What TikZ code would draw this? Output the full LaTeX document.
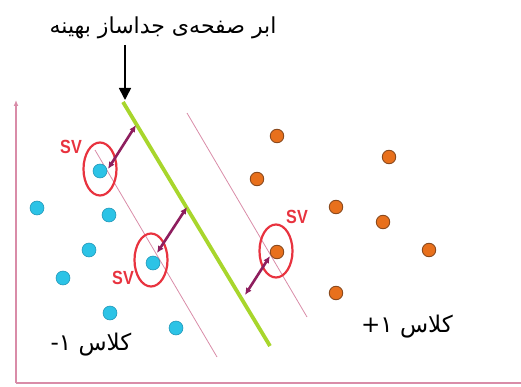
\documentclass[tikz,border=0pt]{standalone}
\usepackage{fontspec}
\setmainfont{Liberation Sans}
\newfontfamily\arabicfont[Script=Arabic]{DejaVu Sans}
\newfontfamily\svfont[FakeStretch=0.85]{Liberation Sans}
\TeXXeTstate=1
\usepackage{tikz}
\usetikzlibrary{arrows.meta, shapes.geometric}
\definecolor{svmred}{HTML}{E8333F}
\definecolor{svmblue}{HTML}{2CC3E6}
\definecolor{svmbluedark}{HTML}{1C8FB0}
\definecolor{svmorange}{HTML}{E8701C}
\definecolor{svmorangedark}{HTML}{8A4A1E}
\definecolor{svmgreen}{HTML}{A8D62C}
\definecolor{svmpink}{HTML}{D98CA8}
\definecolor{svmplum}{HTML}{8E1E5E}

\begin{document}
\begin{tikzpicture}[x=1pt, y=-1pt,
    negdot/.style={circle, draw=svmbluedark, fill=svmblue, line width=0.5pt,
                   inner sep=0pt, minimum size=14pt},
    posdot/.style={circle, draw=svmorangedark, fill=svmorange, line width=0.9pt,
                   inner sep=0pt, minimum size=13.5pt},
    svring/.style={ellipse, draw=svmred, line width=2.2pt, inner sep=0pt,
                   minimum width=33pt, minimum height=53pt},
    svtag/.style={font=\svfont\bfseries\fontsize{19}{19}\selectfont, text=svmred, inner sep=0pt},
    marginline/.style={draw=svmpink, line width=0.8pt},
    gap/.style={{Latex[length=7pt,width=6.5pt]}-{Latex[length=7pt,width=6.5pt]},
                line width=2.6pt, draw=svmplum},
    classlbl/.style={font=\arabicfont\fontsize{23}{26}\selectfont, inner sep=0pt},
]
\useasboundingbox (0,0) rectangle (521,387);

% Axes
\coordinate (origin) at (16,383);
\coordinate (ytop) at (16,100);
\coordinate (xend) at (521,383);
\draw[svmpink, line width=1.8pt, -{Latex[length=6pt,width=5pt]}] (origin) -- (ytop);
\draw[svmpink, line width=1.8pt] (origin) -- (xend);

% Margins and separating hyperplane
\coordinate (mltop) at (95,150);
\coordinate (mlbot) at (217,357);
\coordinate (mrtop) at (187,113);
\coordinate (mrbot) at (307,317);
\coordinate (gtop) at (123,102);
\coordinate (gbot) at (270,346);
\draw[marginline] (mltop) -- (mlbot);
\draw[marginline] (mrtop) -- (mrbot);
\draw[svmgreen, line width=3.8pt] (gtop) -- (gbot);

% Class -1 points
\foreach \x/\y [count=\i] in {100/171, 37/208, 109/215, 89/250, 63/278, 153/263, 110/313, 176/328} {
  \node[negdot] (n\i) at (\x,\y) {};
}
% Class +1 points
\foreach \x/\y [count=\i] in {277/136, 389/157, 257/179, 336/207, 383/222, 429/250, 277/252, 336/293} {
  \node[posdot] (p\i) at (\x,\y) {};
}

% Support vectors
\node[svring] (sv1) at (100,169) {};
\node[svring] (sv2) at (151,260) {};
\node[svring] (sv3) at (276,251) {};
\node[svtag] (sv1tag) at (71,147) {SV};
\node[svtag] (sv2tag) at (123,278) {SV};
\node[svtag] (sv3tag) at (297,217) {SV};

% Distances to the hyperplane
\coordinate (d1a) at (108,169);
\coordinate (d1b) at (136,125);
\coordinate (d2a) at (157,253);
\coordinate (d2b) at (187,207);
\coordinate (d3a) at (270,256);
\coordinate (d3b) at (245,295);
\draw[gap] (d1a) -- (d1b);
\draw[gap] (d2a) -- (d2b);
\draw[gap] (d3a) -- (d3b);

% Labels
\node[font=\arabicfont\fontsize{22}{26}\selectfont, inner sep=0pt] (title) at (163,28)
  {\beginR ابر صفحه‌ی جداساز بهینه\endR};
\coordinate (titletip) at (125,100);
\draw[line width=1.6pt, -{Triangle[length=12pt,width=12pt]}] (125,45) -- (titletip);
\node[classlbl] (negcls) at (91,345) {\beginR کلاس ۱-\endR};
\node[classlbl] (poscls) at (407,327) {\beginR کلاس ۱+\endR};

\end{tikzpicture}
\end{document}
